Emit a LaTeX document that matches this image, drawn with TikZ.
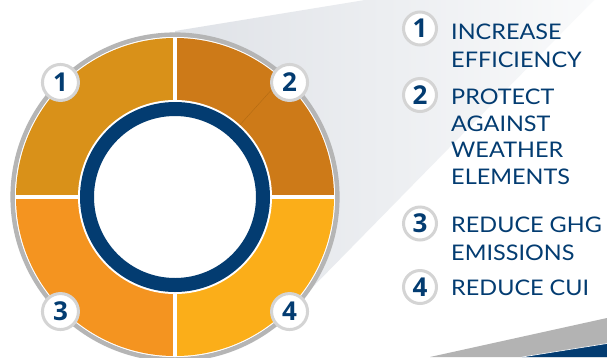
\documentclass[tikz,border=0pt]{standalone}
\usepackage{fontspec}
\setmainfont{Lato}
\newfontfamily\itemfont{Lato}[FakeStretch=1.09]
\newfontfamily\badgefont{Open Sans}
\usetikzlibrary{calc}

\definecolor{navy}{HTML}{033C71}
\definecolor{segA}{HTML}{D99119}
\definecolor{segB}{HTML}{CD7A18}
\definecolor{segC}{HTML}{F49420}
\definecolor{segD}{HTML}{FBAE19}
\definecolor{ringgray}{HTML}{B5B5B5}
\definecolor{badgegray}{HTML}{D4D4D4}
\definecolor{shadeL}{HTML}{DFE2E7}
\definecolor{shadeR}{HTML}{F9FAFB}
\definecolor{bandgray}{HTML}{B3B3B3}
\definecolor{seam}{HTML}{A0600F}

\tikzset{
  ringbadge/.style={circle, fill=white, draw=badgegray, line width=3pt,
    minimum size=36pt, inner sep=0pt, text=navy,
    font=\badgefont\bfseries\fontsize{26}{26}\selectfont},
  listbadge/.style={ringbadge, minimum size=33pt},
  itemtext/.style={anchor=base west, inner sep=0pt, text=navy,
    font=\itemfont\fontsize{21.5}{26}\selectfont},
  divider/.style={white, line width=4pt},
}

\begin{document}
\begin{tikzpicture}[x=1pt,y=-1pt]
\useasboundingbox (0,0) rectangle (607,357);
\fill[white] (0,0) rectangle (607,357);

\coordinate (C) at (175,197);

% soft grey beam fanning out from the ring towards the list
\shade[left color=shadeL, right color=shadeR]
  (175,197) -- (175,31) -- (365,0) -- (594,0) -- (303,297) -- cycle;

% corner bands
\fill[bandgray] (430,357) -- (607,318) -- (607,357) -- cycle;
\fill[navy] (522,357) -- (607,343.5) -- (607,357) -- cycle;
\draw[white, line width=0.6pt] (522,357) -- (607,343.5);

% outer grey rim
\draw[ringgray, line width=4.6pt] (C) circle[radius=162.3];
\fill[white] (C) circle[radius=160];

% four coloured quarters
\fill[segA] (C) -- ++(180:159) arc[start angle=180, end angle=270, radius=159] -- cycle;
\fill[segB] (C) -- ++(270:159) arc[start angle=270, end angle=360, radius=159] -- cycle;
\fill[segC] (C) -- ++(90:159) arc[start angle=90, end angle=180, radius=159] -- cycle;
\fill[segD] (C) -- ++(0:159) arc[start angle=0, end angle=90, radius=159] -- cycle;

% white gaps between quarters
\draw[divider] ($(C)+(0,-160)$) -- ($(C)+(0,160)$);
\draw[divider] ($(C)+(-160,0)$) -- ($(C)+(160,0)$);

% hub: white gap, navy ring, white centre
\fill[white] (C) circle[radius=97];
\draw[navy, line width=14pt] (C) circle[radius=88];

% faint seam in the upper right quarter
\draw[seam, line width=0.4pt, opacity=0.6] ($(C)+(312:97)$) -- ($(C)+(312:145)$);

% numbered badges on the rim
\node[ringbadge] (r1) at ($(C)+(225:162)$) {1};
\node[ringbadge] (r2) at ($(C)+(315:162)$) {2};
\node[ringbadge] (r3) at ($(C)+(135:162)$) {3};
\node[ringbadge] (r4) at ($(C)+(45:162)$) {4};

% list
\node[listbadge] (k1) at (420,28.5) {1};
\node[listbadge] (k2) at (420,95) {2};
\node[listbadge] (k3) at (420,223.5) {3};
\node[listbadge] (k4) at (420,287) {4};

\node[itemtext] (t1a) at (451,39) {INCREASE};
\node[itemtext] (t1b) at (451,67) {EFFICIENCY};
\node[itemtext] (t2a) at (451,104) {PROTECT};
\node[itemtext] (t2b) at (451,131) {AGAINST};
\node[itemtext] (t2c) at (451,157.5) {WEATHER};
\node[itemtext] (t2d) at (451,184) {ELEMENTS};
\node[itemtext] (t3a) at (451,232) {REDUCE GHG};
\node[itemtext] (t3b) at (451,260) {EMISSIONS};
\node[itemtext] (t4a) at (451,295) {REDUCE CUI};
\end{tikzpicture}
\end{document}
